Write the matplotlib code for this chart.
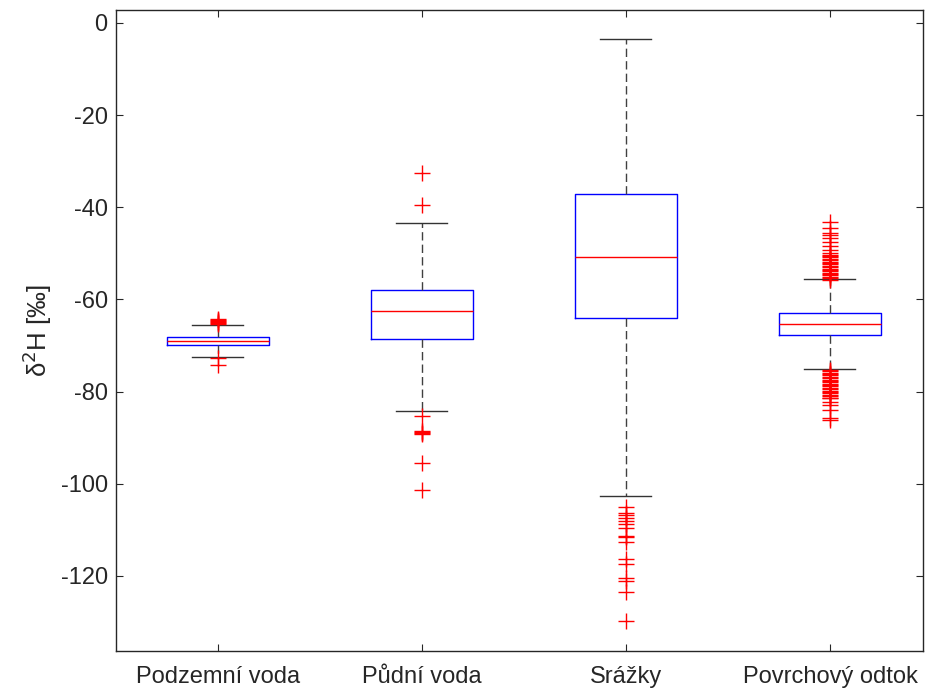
import matplotlib
matplotlib.use("Agg")
import matplotlib.pyplot as plt

# Summary statistics (delta 2H, permil)
GROUPS = ['Podzemní voda', 'Půdní voda', 'Srážky', 'Povrchový odtok']
Q1 = [-69.9, -68.6, -64.0, -67.8]
MEDIAN = [-69.0, -62.6, -50.7, -65.3]
Q3 = [-68.2, -57.9, -37.1, -63.0]
WHISK_LO = [-72.5, -84.2, -102.6, -75.0]
WHISK_HI = [-65.5, -43.4, -3.5, -55.6]

FLIERS_PODZEMNI = [-64.3, -64.5, -64.7, -64.9, -65.1, -65.3, -72.8, -74.3]
FLIERS_PUDNI = [-32.6, -39.6, -85.4, -88.6, -88.8, -89.0, -89.2, -95.6, -101.4]
FLIERS_SRAZKY = [-105.1, -106.4, -106.8, -107.5, -108.2, -108.7, -109.7,
                 -111.3, -111.6, -112.6, -116.4, -117.4, -120.4, -121.2,
                 -123.6, -129.8]
FLIERS_POVRCH = [-43.3, -44.6, -45.6, -46.0, -46.7, -47.5, -48.5, -49.3,
                 -50.0, -50.3, -50.6, -50.9, -51.2, -51.5, -51.8, -52.1,
                 -52.4, -52.7, -53.0, -53.3, -53.6, -53.9, -54.2, -54.5,
                 -54.8, -55.1, -55.4, -55.7,
                 -75.3, -75.6, -75.9, -76.2, -76.5, -76.8, -77.1, -77.4,
                 -77.7, -78.0, -78.3, -78.6, -78.9, -79.2, -79.5, -79.8,
                 -80.1, -80.4, -80.7, -81.0, -81.3, -81.5, -82.2, -82.9,
                 -84.1, -85.8, -86.2]
FLIERS = [FLIERS_PODZEMNI, FLIERS_PUDNI, FLIERS_SRAZKY, FLIERS_POVRCH]

YTICKS = [0, -20, -40, -60, -80, -100, -120]

plt.rcParams['font.family'] = ['Liberation Sans', 'DejaVu Sans']
TXT = '#262626'

fig = plt.figure(figsize=(9.28, 6.96), dpi=100)
ax = fig.add_axes([0.125, 0.0647, 0.8696, 0.921])

stats = []
for i, name in enumerate(GROUPS):
    stats.append({
        'label': name,
        'q1': Q1[i],
        'med': MEDIAN[i],
        'q3': Q3[i],
        'whislo': WHISK_LO[i],
        'whishi': WHISK_HI[i],
        'fliers': FLIERS[i],
    })

ax.bxp(stats, positions=[1, 2, 3, 4], widths=0.5, capwidths=0.25,
       boxprops=dict(color='#0000ff', linewidth=1.0),
       medianprops=dict(color='#ff0000', linewidth=1.0),
       whiskerprops=dict(color='#404040', linewidth=1.0, linestyle=(0, (6, 3))),
       capprops=dict(color='#333333', linewidth=1.0),
       flierprops=dict(marker='+', markeredgecolor='#ff0000', markersize=11,
                       markeredgewidth=1.0, linestyle='none'))

ax.set_xlim(0.5, 4.456)
ax.set_ylim(-136.3, 2.82)
ax.set_yticks(YTICKS)
ax.set_yticklabels([str(v) for v in YTICKS])
ax.set_xticks([1, 2, 3, 4])
ax.set_xticklabels(GROUPS)

ax.tick_params(direction='in', length=5, width=0.8, colors=TXT,
               labelsize=17, top=True, right=True)
ax.tick_params(axis='y', pad=6)
ax.tick_params(axis='x', pad=11)
for sp in ax.spines.values():
    sp.set_color(TXT)
    sp.set_linewidth(1.0)

ax.set_ylabel('δ$^2$H [‰]', fontsize=18.5, color=TXT, labelpad=5)

fig.savefig('out.png', dpi=100)
